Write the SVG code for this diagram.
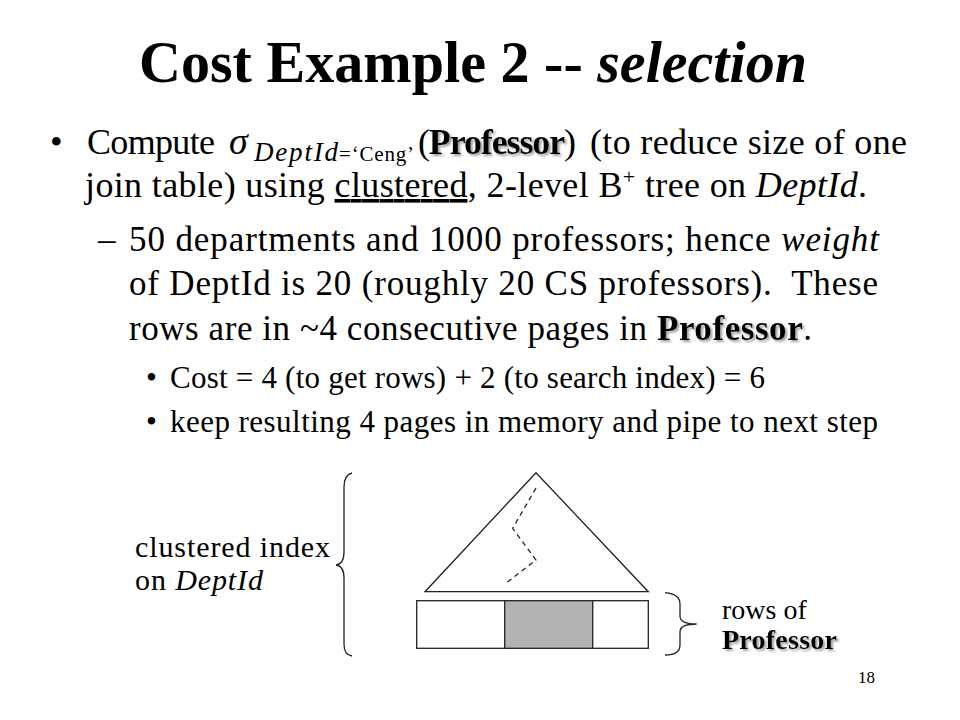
<svg xmlns="http://www.w3.org/2000/svg" width="960" height="720" viewBox="0 0 960 720">
<style>
text{font-family:"Liberation Serif","Times New Roman",serif;fill:#000}
.title{font-size:59px;font-weight:bold}
.l1{font-size:36px}
.l2{font-size:35px}
.l3{font-size:31px}
.lbl{font-size:30px}
.it{font-style:italic}
.bd{font-weight:bold}
.sh{filter:url(#shadow)}
.ln{fill:none;stroke:#222;stroke-width:1.3}
</style>
<defs>
<filter id="shadow" x="-10%" y="-20%" width="130%" height="150%">
<feDropShadow dx="2" dy="2" stdDeviation="1" flood-color="#888" flood-opacity="0.8"/>
</filter>
</defs>
<rect width="960" height="720" fill="#fff"/>
<g id="title">
<text class="title" x="139" y="82" textLength="668" lengthAdjust="spacingAndGlyphs" xml:space="preserve">Cost Example 2 -- <tspan class="it">selection</tspan></text>
</g>
<g id="body">
<text class="l1" x="50" y="154">•</text>
<text class="l1" x="87" y="154" textLength="128">Compute</text>
<text class="it" font-size="38" x="229" y="154">σ</text>
<text class="it" font-size="27" x="254" y="161" textLength="84">DeptId</text>
<text font-size="21" x="339" y="161" textLength="75">=‘Ceng’</text>
<text class="l1" x="418" y="154" textLength="158">(<tspan class="bd sh">Professor</tspan>)</text>
<text class="l1" x="590" y="154" textLength="317">(to reduce size of one</text>
<text class="l1" x="85" y="197" textLength="782" xml:space="preserve">join table) using <tspan text-decoration="underline">clustered</tspan>, 2-level B<tspan font-size="22" dy="-13">+</tspan><tspan dy="13"> tree on </tspan><tspan class="it">DeptId</tspan>.</text>
<text class="l2" x="98" y="251">–</text>
<text class="l2" x="129" y="251" textLength="750" xml:space="preserve">50 departments and 1000 professors; hence <tspan class="it">weight</tspan></text>
<text class="l2" x="129" y="295" textLength="749" xml:space="preserve">of DeptId is 20 (roughly 20 CS professors).  These</text>
<text class="l2" x="129" y="340" textLength="683" xml:space="preserve">rows are in ~4 consecutive pages in <tspan class="bd sh">Professor</tspan>.</text>
<text class="l3" x="146" y="388">•</text>
<text class="l3" x="170" y="388" textLength="595">Cost = 4 (to get rows) + 2 (to search index) = 6</text>
<text class="l3" x="146" y="432">•</text>
<text class="l3" x="170" y="432" textLength="708">keep resulting 4 pages in memory and pipe to next step</text>
</g>
<g id="index-tree">
<polygon class="ln" points="536,472.7 425,591.7 648.3,591.7"/>
<polyline class="ln" stroke-dasharray="5,4" points="536,488 512.7,528.3 536,560 505,584"/>
</g>
<g id="rows">
<rect x="504.7" y="600.7" width="88" height="47.6" fill="#b2b2b2"/>
<rect class="ln" x="416.7" y="600.7" width="231.6" height="47.6"/>
<line class="ln" x1="504.7" y1="600.7" x2="504.7" y2="648.3"/>
<line class="ln" x1="592.7" y1="600.7" x2="592.7" y2="648.3"/>
</g>
<g id="braces">
<path class="ln" d="M352,473 Q344,475 344,487 L344,552 Q344,564 336,565 Q344,566 344,578 L344,644 Q344,655 352,656"/>
<path class="ln" d="M665,592.7 Q680,594 680,604 L680,616 Q680,624 696.7,624 Q680,624 680,632 L680,645 Q680,655 665,655"/>
</g>
<g id="labels">
<text class="lbl" x="135" y="557" textLength="195" xml:space="preserve">clustered index</text>
<text class="lbl" x="135" y="590" textLength="128" xml:space="preserve">on <tspan class="it">DeptId</tspan></text>
<text font-size="28" x="722" y="619">rows of</text>
<text font-size="28" class="bd sh" x="722" y="649" textLength="115">Professor</text>
<text font-size="17" x="858" y="683">18</text>
</g>
</svg>
